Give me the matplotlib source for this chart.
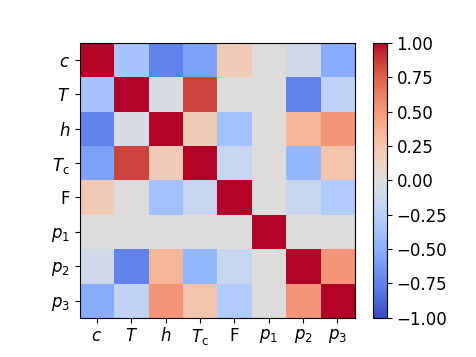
import numpy as np
import matplotlib.pyplot as plt

labels = ["$c$", "$T$", "$h$", "$T_\\mathrm{c}$", "F", "$p_1$", "$p_2$", "$p_3$"]

# upper triangle of the correlation matrix, row by row
c_row = [-0.35, -0.75, -0.58, 0.20, 0.0, -0.10, -0.52]
T_row = [-0.05, 0.85, 0.0, 0.0, -0.75, -0.20]
h_row = [0.20, -0.38, 0.0, 0.35, 0.52]
Tc_row = [-0.15, 0.0, -0.45, 0.25]
F_row = [0.0, -0.15, -0.30]
p1_row = [0.0, 0.0]
p2_row = [0.52]

n = len(labels)
corr = np.eye(n)
for i, row in enumerate([c_row, T_row, h_row, Tc_row, F_row, p1_row, p2_row]):
    corr[i, i + 1:] = row
    corr[i + 1:, i] = row

plt.rcParams["font.size"] = 12
fig = plt.figure(figsize=(4.76, 3.57), dpi=100)
im = plt.imshow(corr, cmap="coolwarm", vmin=-1, vmax=1)
plt.colorbar(im)
plt.xticks(range(n), labels)
plt.yticks(range(n), labels)
plt.savefig("out.png")
